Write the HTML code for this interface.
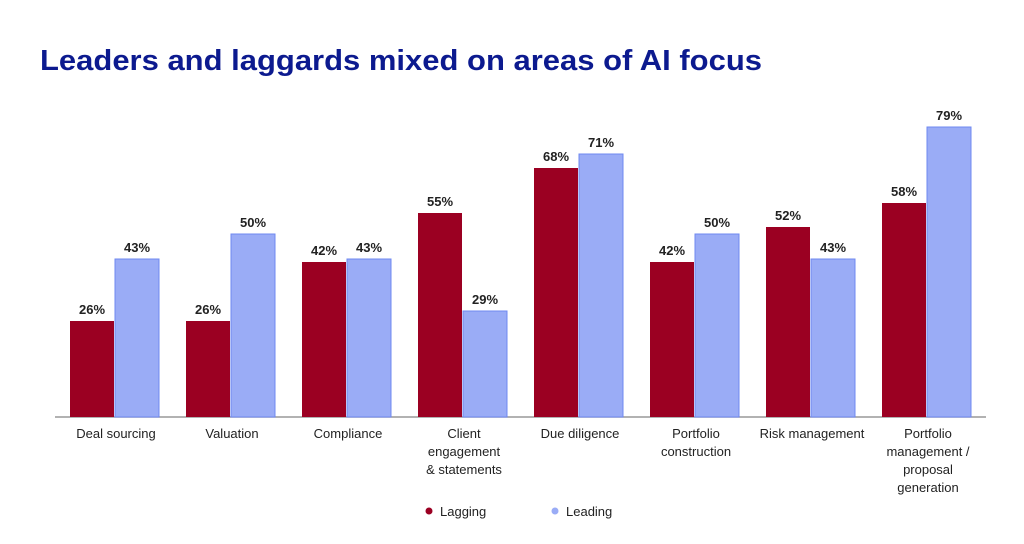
<!DOCTYPE html>
<html><head><style>
body{margin:0;width:1024px;height:539px;background:#fff;overflow:hidden;font-family:"Liberation Sans",sans-serif;}
</style></head><body>
<svg width="1024" height="539" xmlns="http://www.w3.org/2000/svg" font-family="Liberation Sans, sans-serif">
<text x="40" y="70" font-size="29" font-weight="bold" fill="#0c1a8f" textLength="722" lengthAdjust="spacingAndGlyphs">Leaders and laggards mixed on areas of AI focus</text>
<line x1="55" y1="417" x2="986" y2="417" stroke="#999" stroke-width="1.5"/>
<g font-size="13" font-weight="bold" fill="#222" text-anchor="middle">
<rect x="70" y="321" width="44" height="96" fill="#9b0022"/><rect x="115" y="259" width="44" height="158" fill="#9aacf6" stroke="#6f88f0"/>
<text x="92" y="314">26%</text><text x="137" y="252">43%</text>
<rect x="186" y="321" width="44" height="96" fill="#9b0022"/><rect x="231" y="234" width="44" height="183" fill="#9aacf6" stroke="#6f88f0"/>
<text x="208" y="314">26%</text><text x="253" y="227">50%</text>
<rect x="302" y="262" width="44" height="155" fill="#9b0022"/><rect x="347" y="259" width="44" height="158" fill="#9aacf6" stroke="#6f88f0"/>
<text x="324" y="255">42%</text><text x="369" y="252">43%</text>
<rect x="418" y="213" width="44" height="204" fill="#9b0022"/><rect x="463" y="311" width="44" height="106" fill="#9aacf6" stroke="#6f88f0"/>
<text x="440" y="206">55%</text><text x="485" y="304">29%</text>
<rect x="534" y="168" width="44" height="249" fill="#9b0022"/><rect x="579" y="154" width="44" height="263" fill="#9aacf6" stroke="#6f88f0"/>
<text x="556" y="161">68%</text><text x="601" y="147">71%</text>
<rect x="650" y="262" width="44" height="155" fill="#9b0022"/><rect x="695" y="234" width="44" height="183" fill="#9aacf6" stroke="#6f88f0"/>
<text x="672" y="255">42%</text><text x="717" y="227">50%</text>
<rect x="766" y="227" width="44" height="190" fill="#9b0022"/><rect x="811" y="259" width="44" height="158" fill="#9aacf6" stroke="#6f88f0"/>
<text x="788" y="220">52%</text><text x="833" y="252">43%</text>
<rect x="882" y="203" width="44" height="214" fill="#9b0022"/><rect x="927" y="127" width="44" height="290" fill="#9aacf6" stroke="#6f88f0"/>
<text x="904" y="196">58%</text><text x="949" y="120">79%</text>
</g>
<g font-size="13" fill="#222" text-anchor="middle">
<text x="116" y="438">Deal sourcing</text>
<text x="232" y="438">Valuation</text>
<text x="348" y="438">Compliance</text>
<text x="464" y="438">Client</text><text x="464" y="456">engagement</text><text x="464" y="474">&amp; statements</text>
<text x="580" y="438">Due diligence</text>
<text x="696" y="438">Portfolio</text><text x="696" y="456">construction</text>
<text x="812" y="438">Risk management</text>
<text x="928" y="438">Portfolio</text><text x="928" y="456">management /</text><text x="928" y="474">proposal</text><text x="928" y="492">generation</text>
</g>
<circle cx="429" cy="511" r="3.5" fill="#9b0022"/>
<text x="440" y="516" font-size="13" fill="#222">Lagging</text>
<circle cx="555" cy="511" r="3.5" fill="#9aacf6"/>
<text x="566" y="516" font-size="13" fill="#222">Leading</text>
</svg>
</body></html>
